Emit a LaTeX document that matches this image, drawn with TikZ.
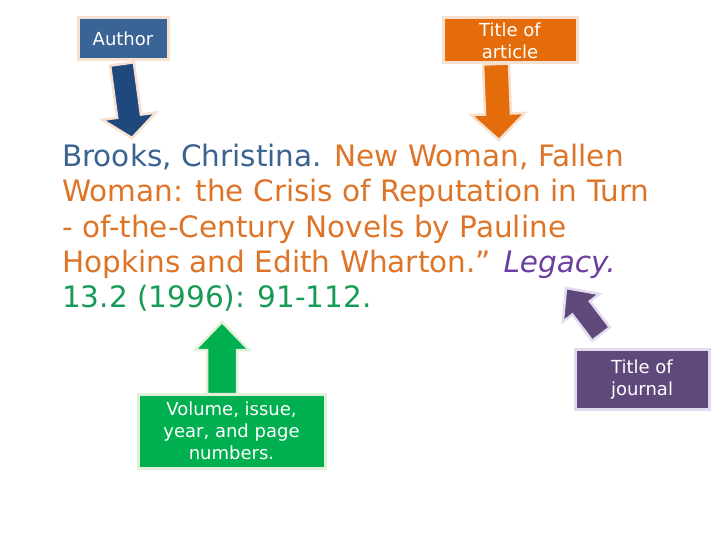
\documentclass[tikz,border=0pt]{standalone}
\usepackage{fontspec}
\setmainfont{DejaVu Sans}
\usetikzlibrary{calc}
\definecolor{authblue}{HTML}{3A6496}
\definecolor{arrblue}{HTML}{1F497D}
\definecolor{txtblue}{HTML}{3B6390}
\definecolor{orng}{HTML}{E46C0A}
\definecolor{txtorng}{HTML}{DD7428}
\definecolor{grn}{HTML}{00B050}
\definecolor{txtgrn}{HTML}{169B56}
\definecolor{purp}{HTML}{5F497A}
\definecolor{txtpurp}{HTML}{6B3FA0}
\definecolor{peach}{HTML}{F6E0D0}
\definecolor{palegrn}{HTML}{E2F0D9}
\definecolor{lav}{HTML}{E2DAEE}
\tikzset{
  box/.style={rectangle, inner sep=0pt, line width=3pt, text=white, align=center,
    font=\fontsize{18}{22}\selectfont},
  line/.style={anchor=base west, inner sep=0pt, font=\fontsize{29.5}{35}\selectfont},
  blk/.style={line width=2.5pt, line join=miter}
}
% #1 style, #2 tail coord, #3 tip coord, #4 shaft half, #5 head half, #6 head length
\newcommand\blkarrow[6]{%
  \coordinate (#2h) at ($(#3)!#6!(#2)$);
  \path[#1] ($(#2)!#4!90:(#3)$) -- ($(#2h)!#4!90:(#3)$) -- ($(#2h)!#5!90:(#3)$)
    -- (#3) -- ($(#2h)!#5!-90:(#3)$) -- ($(#2h)!#4!-90:(#3)$) -- ($(#2)!#4!-90:(#3)$) -- cycle;
}
\begin{document}
\begin{tikzpicture}[x=1pt,y=-1pt]
\useasboundingbox (0,0) rectangle (720,540);
% arrows
\coordinate (bt) at (122,64);
\coordinate (bp) at (132,138);
\blkarrow{blk, fill=arrblue, draw=peach}{bt}{bp}{12pt}{27pt}{22pt}
\coordinate (ot) at (496,64);
\coordinate (op) at (499,140);
\blkarrow{blk, fill=orng, draw=peach}{ot}{op}{13pt}{27pt}{26pt}
\coordinate (gt) at (222,394);
\coordinate (gp) at (222,322);
\blkarrow{blk, fill=grn, draw=palegrn}{gt}{gp}{15pt}{27pt}{28pt}
\coordinate (pt) at (601,334);
\coordinate (pp) at (566,288);
\blkarrow{blk, fill=purp, draw=lav}{pt}{pp}{11pt}{23pt}{25pt}
% boxes
\node[box, fill=authblue, draw=peach, minimum width=90pt, minimum height=42pt] (author) at (123,39) {Author};
\node[box, fill=orng, draw=peach, minimum width=134pt, minimum height=45pt] (titleart) at (510,40.5) {Title of\\article};
\node[box, fill=grn, draw=palegrn, minimum width=187pt, minimum height=74pt] (vol) at (231.5,431) {Volume, issue,\\year, and page\\numbers.};
\node[box, fill=purp, draw=lav, minimum width=134pt, minimum height=60pt] (journal) at (642,379.5) {Title of\\journal};
% citation text
\node[line] (l1) at (62,167) {\textcolor{txtblue}{Brooks, Christina.} \textcolor{txtorng}{New Woman, Fallen}};
\node[line, text=txtorng] (l2) at (62,202) {Woman: the Crisis of Reputation in Turn};
\node[line, text=txtorng] (l3) at (62,237) {- of-the-Century Novels by Pauline};
\node[line] (l4) at (62,272) {\textcolor{txtorng}{Hopkins and Edith Wharton.”} \textcolor{txtpurp}{\itshape Legacy.}};
\node[line, text=txtgrn] (l5) at (62,307) {13.2 (1996): 91-112.};
\end{tikzpicture}
\end{document}
